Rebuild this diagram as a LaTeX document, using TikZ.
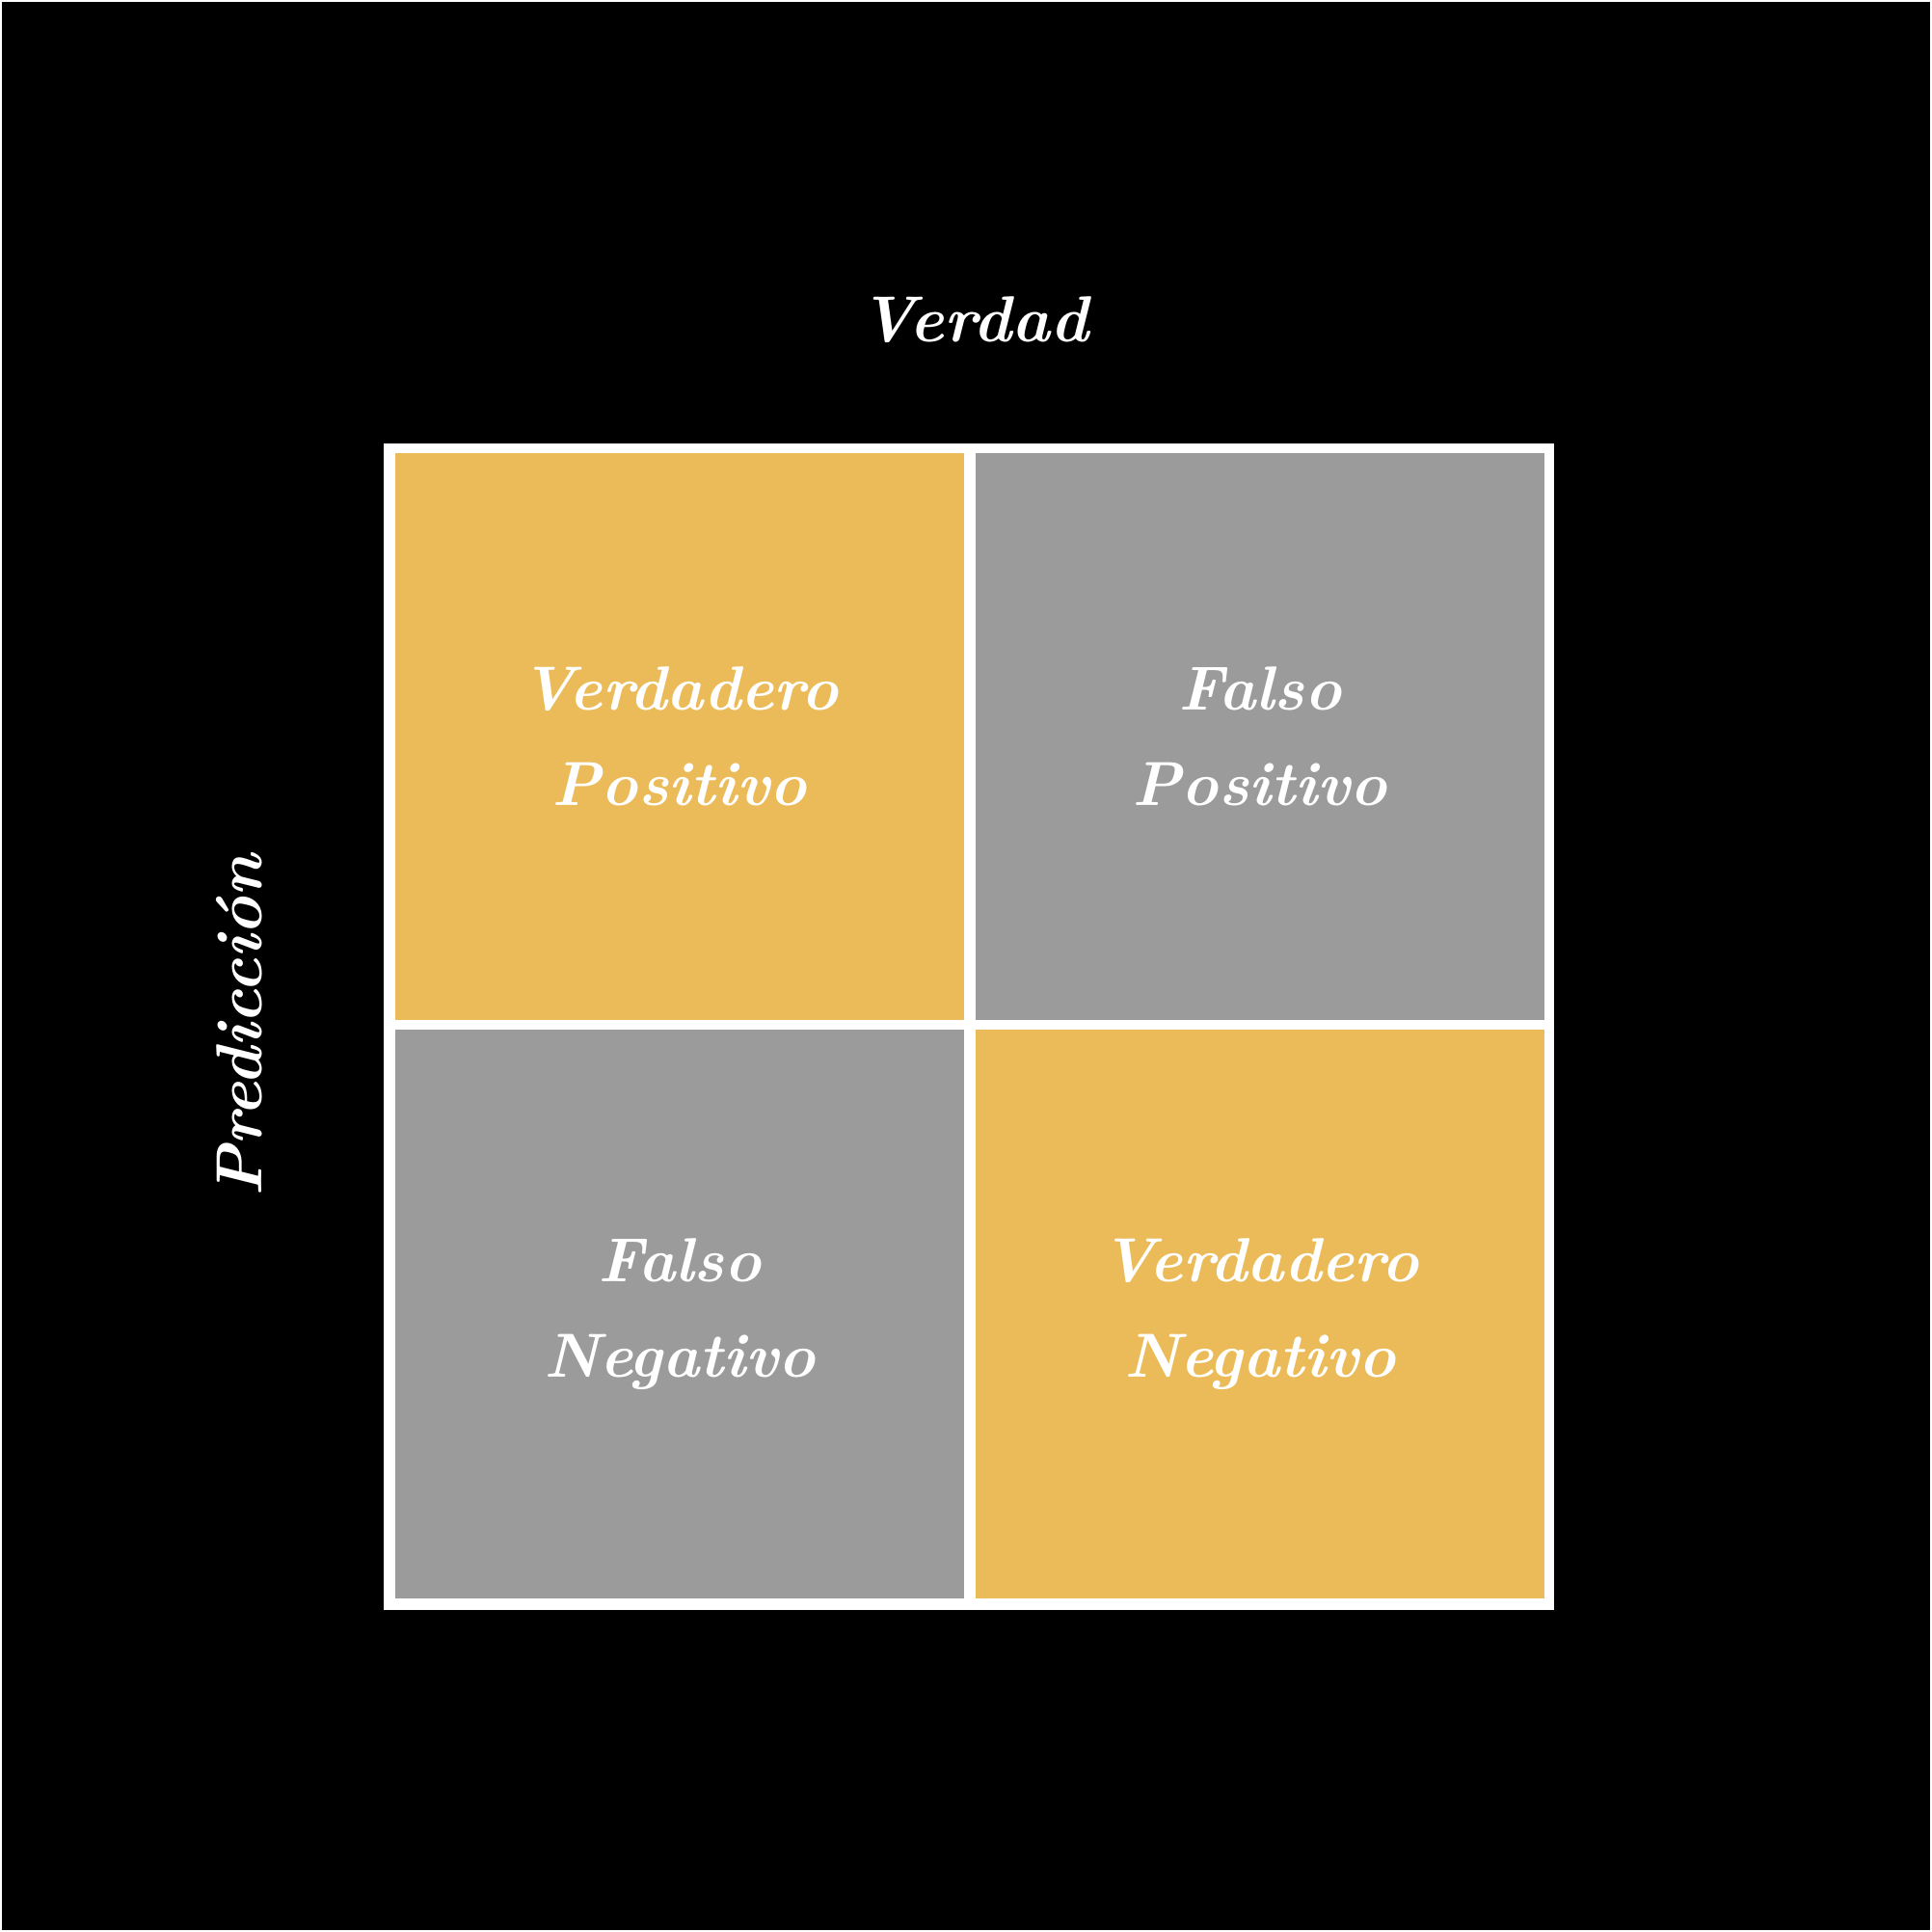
\documentclass[tikz,border=0pt]{standalone}
\usepackage{tikz}
\definecolor{mostaza}{HTML}{EBBB59}
\definecolor{gris}{HTML}{9B9B9B}
\tikzset{celda/.style={minimum width=5.9cm, minimum height=5.9cm, inner sep=0pt, align=center, text=white, font=\fontsize{18.4}{28}\selectfont\bfseries\itshape}}
\tikzset{rotulo/.style={text=white, inner sep=0pt, font=\fontsize{19.2}{28}\selectfont\bfseries\itshape}}
\begin{document}
\begin{tikzpicture}
\useasboundingbox (0,0) rectangle (20.04,20.04);
\fill[black] (0,0) rectangle (20.04,20.04);
\draw[white, line width=0.02cm] (0.01,0.01) rectangle (20.03,20.03);
% marco y divisiones
\fill[white] (3.98,3.34) rectangle (16.12,15.44);
\node[celda, fill=mostaza, minimum height=5.88cm] (vp) at (7.05,12.40) {Verdadero\\Positivo};
\node[celda, fill=gris, minimum height=5.88cm] (fp) at (13.07,12.40) {Falso\\Positivo};
\node[celda, fill=gris] (fn) at (7.05,6.41) {Falso\\Negativo};
\node[celda, fill=mostaza] (vn) at (13.07,6.41) {Verdadero\\Negativo};
% ejes
\node[rotulo] (verdad) at (10.10,16.72) {Verdad};
\node[rotulo, rotate=90] (prediccion) at (2.48,9.40) {Predicción};
\end{tikzpicture}
\end{document}
